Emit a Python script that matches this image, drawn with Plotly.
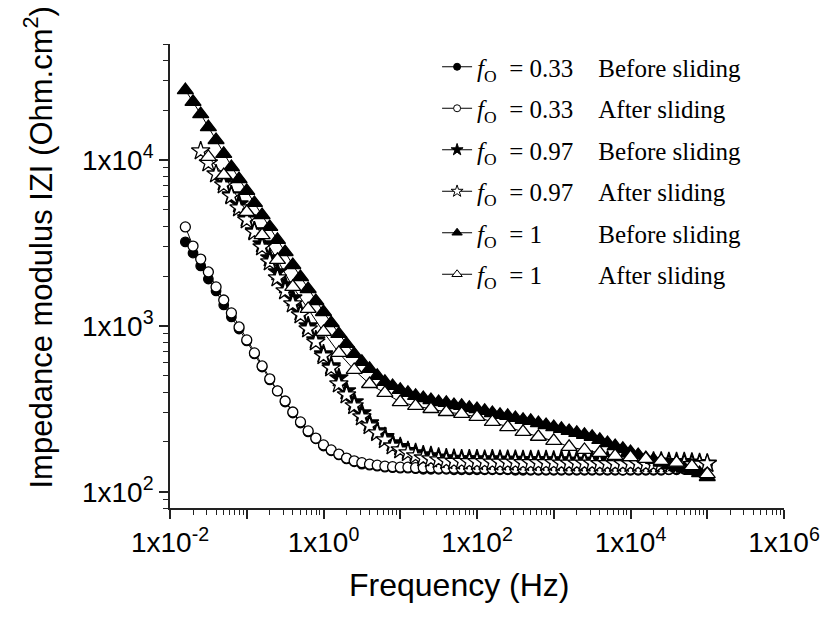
import plotly.graph_objects as go

# ---------------- data ----------------
FREQ = [0.01585, 0.01995, 0.02512, 0.03162, 0.03981, 0.05012, 0.0631, 0.07943,
        0.1, 0.1259, 0.1585, 0.1995, 0.2512, 0.3162, 0.3981, 0.5012, 0.631, 0.7943,
        1, 1.259, 1.585, 1.995, 2.512, 3.162, 3.981, 5.012, 6.31, 7.943,
        10, 12.59, 15.85, 19.95, 25.12, 31.62, 39.81, 50.12, 63.1, 79.43,
        100, 125.9, 158.5, 199.5, 251.2, 316.2, 398.1, 501.2, 631, 794.3,
        1000, 1259, 1585, 1995, 2512, 3162, 3981, 5012, 6310, 7943,
        10000, 12589, 15849, 19953, 25119, 31623, 39811, 50119, 63096, 79433, 100000]

FREQ_OT = [0.03162, 0.05012, 0.1, 0.1585, 0.2512, 0.3981, 0.631, 1, 1.585, 2.512,
           3.981, 6.31, 10, 15.85, 25.12, 39.81, 63.1, 100, 158.5, 251.2, 398.1, 631,
           1000, 1585, 2512, 3981, 6310, 10000, 15849, 25119, 39811, 63096, 100000]

Z_FC = [3210, 2750, 2300, 1919, 1625, 1338, 1133, 959, 812, 678, 566, 473, 406, 348, 299,
        260, 230, 209, 189, 177, 167, 158, 152, 147, 145, 143, 141,
        140, 139, 139, 138,
        137, 137, 137, 137, 136, 136, 136, 136, 136, 136, 136, 136, 135, 135, 135, 135, 135,
        135, 135, 135, 135, 135, 135, 135, 135, 135, 135, 135, 135, 135, 135, 135, 136, 136,
        137, 139, 142, 146]

Z_OC = [3950, 3030, 2530, 2115, 1718, 1434, 1198, 986, 824, 688, 574, 480, 406, 353, 303,
        264, 233, 211, 192, 179, 169, 160, 154, 150, 147, 145, 143,
        142, 141, 141,
        140, 140, 140, 139, 139, 139, 139, 139, 139, 138, 138,
        138, 138, 138, 138, 137, 137, 137, 137, 137, 137, 137, 137, 137, 137, 137, 137, 136,
        137, 137, 137, 137, 137, 137, 138,
        139, 140, 143, 147]

Z_FS = [7370, 6150, 5430, 4470, 3740, 3120, 2570, 2115, 1766, 1475, 1214, 1000, 824, 678,
        574, 486, 406, 348, 299, 260, 233, 215, 197, 187, 177, 172, 167, 165, 162, 160,
        159, 158, 158, 158, 157, 158, 157, 157, 157, 156, 156,
        156, 156, 155, 156, 155, 155, 155, 155, 154, 155, 154, 154, 154, 153, 153,
        153, 153, 152, 152, 152, 151, 150, 149]

Z_OS = [11330, 9590, 8230, 7070, 6070, 5140, 4350, 3680, 2990, 2430, 1946, 1625, 1357, 1165,
        959, 801, 660, 558, 447, 384, 330, 283, 250, 227, 206, 189, 179, 172, 165, 160, 158,
        156, 154,
        153, 153, 152, 152, 152, 151, 151, 151, 151, 150, 150,
        150, 150, 150, 149, 149, 149, 149, 149, 148, 148, 148, 148, 148, 148, 147,
        147, 147, 147, 147, 147, 146, 147, 148]

Z_FT = [26400, 22400, 18900, 15800, 13200, 10900, 9070, 7680,
        6510, 5510, 4660, 3950, 3300, 2790, 2330, 1970, 1670, 1414,
        1214, 1042, 895, 779, 678, 607, 551, 500, 460, 435,
        412, 395, 379, 368, 358, 348, 344, 334, 330, 321,
        316, 308, 299, 291, 287, 279, 272, 268, 260, 253,
        246, 240, 233, 227, 221, 215, 206, 197, 189, 182,
        174, 167, 160, 156, 150, 145, 141, 138, 134, 130, 123]

Z_OT = [10430, 8120, 4860, 3530, 2500, 1720, 1266, 920, 688, 543, 447, 395, 348, 330, 316,
        303, 295, 283, 264, 246, 230, 215, 203, 187, 179, 172, 165, 162, 158, 154, 150, 143, 128]

NB = "\u00a0"
LABELS = ["<i>f</i><sub>O</sub>" + NB * 2 + "= 0.33" + NB * 4 + "Before sliding",
          "<i>f</i><sub>O</sub>" + NB * 2 + "= 0.33" + NB * 4 + "After sliding",
          "<i>f</i><sub>O</sub>" + NB * 2 + "= 0.97" + NB * 4 + "Before sliding",
          "<i>f</i><sub>O</sub>" + NB * 2 + "= 0.97" + NB * 4 + "After sliding",
          "<i>f</i><sub>O</sub>" + NB * 2 + "= 1" + NB * 9 + "Before sliding",
          "<i>f</i><sub>O</sub>" + NB * 2 + "= 1" + NB * 9 + "After sliding"]

X_TICKS = [1e-2, 1e-1, 1e0, 1e1, 1e2, 1e3, 1e4, 1e5, 1e6]
X_TICKTEXT = ["1x10<sup>-2</sup>", "", "1x10<sup>0</sup>", "", "1x10<sup>2</sup>", "",
              "1x10<sup>4</sup>", "", "1x10<sup>6</sup>"]
Y_TICKS = [1e2, 1e3, 1e4]
Y_TICKTEXT = ["1x10<sup>2</sup>", "1x10<sup>3</sup>", "1x10<sup>4</sup>"]

# ---------------- styling ----------------
series = [
    (FREQ, Z_FC, "circle", "black", 9.5),
    (FREQ, Z_OC, "circle", "white", 10),
    (FREQ[5:], Z_FS, "star", "black", 14),
    (FREQ[2:], Z_OS, "star", "white", 14),
    (FREQ, Z_FT, "triangle-up", "black", 14),
    (FREQ_OT, Z_OT, "triangle-up", "white", 14),
]
legend_sizes = [7, 7, 9, 9, 9, 9]

fig = go.Figure()
for (fx, fz, sym, fill, size) in series:
    fig.add_trace(go.Scatter(
        x=fx, y=fz, mode="lines+markers", showlegend=False,
        line=dict(color="black", width=1),
        marker=dict(symbol=sym, color=fill, size=size,
                    line=dict(color="black", width=1.3)),
    ))

for i, (s, lab) in enumerate(zip(series, LABELS)):
    fig.add_trace(go.Scatter(
        x=[None], y=[None], mode="lines+markers", name=lab,
        legendgroup=str(i),
        line=dict(color="black", width=1),
        marker=dict(symbol=s[2], color=s[3], size=legend_sizes[i],
                    line=dict(color="black", width=1)),
    ))

minor_x = [m * 10 ** e for e in range(-2, 6) for m in range(2, 10)]
minor_y = [80, 90] + [m * 10 ** e for e in range(2, 5) for m in range(2, 10) if m * 10 ** e <= 50000]

axis_common = dict(
    type="log", showline=True, linecolor="#222", linewidth=1.6,
    showgrid=False, zeroline=False, mirror=False,
    ticks="outside", ticklen=9, tickwidth=1.5, tickcolor="#222",
    tickmode="array",
    tickfont=dict(family="Liberation Sans, Arial", size=28, color="black"),
)

fig.update_layout(
    width=832, height=621,
    margin=dict(l=170, r=41, t=44, b=113),
    paper_bgcolor="white", plot_bgcolor="white",
    xaxis=dict(**axis_common, range=[-2, 6], tickvals=X_TICKS, ticktext=X_TICKTEXT,
               minor=dict(tickmode="array", tickvals=minor_x, ticks="outside",
                          ticklen=5, tickwidth=1, tickcolor="#222")),
    yaxis=dict(**axis_common, range=[1.90309, 4.69897], tickvals=Y_TICKS, ticktext=Y_TICKTEXT,
               minor=dict(tickmode="array", tickvals=minor_y, ticks="outside",
                          ticklen=5, tickwidth=1, tickcolor="#222")),
    legend=dict(x=0.435, y=1.0, xanchor="left", yanchor="top",
                bgcolor="rgba(0,0,0,0)", borderwidth=0,
                font=dict(family="Liberation Serif, Times New Roman", size=25, color="black"),
                tracegroupgap=6, traceorder="grouped", itemsizing="trace"),
    annotations=[
        dict(text="Impedance modulus IZI (Ohm.cm<sup>2</sup>)", textangle=-90,
             xref="paper", yref="paper", x=(37 - 170) / 621, y=(508 - 247) / 464,
             xanchor="center", yanchor="middle", showarrow=False,
             font=dict(family="Liberation Sans, Arial", size=31, color="black")),
        dict(text="Frequency (Hz)",
             xref="paper", yref="paper", x=(463 - 170) / 621, y=(508 - 585) / 464,
             xanchor="center", yanchor="middle", showarrow=False,
             font=dict(family="Liberation Sans, Arial", size=32, color="black")),
    ],
)

fig.write_html("out.html")
